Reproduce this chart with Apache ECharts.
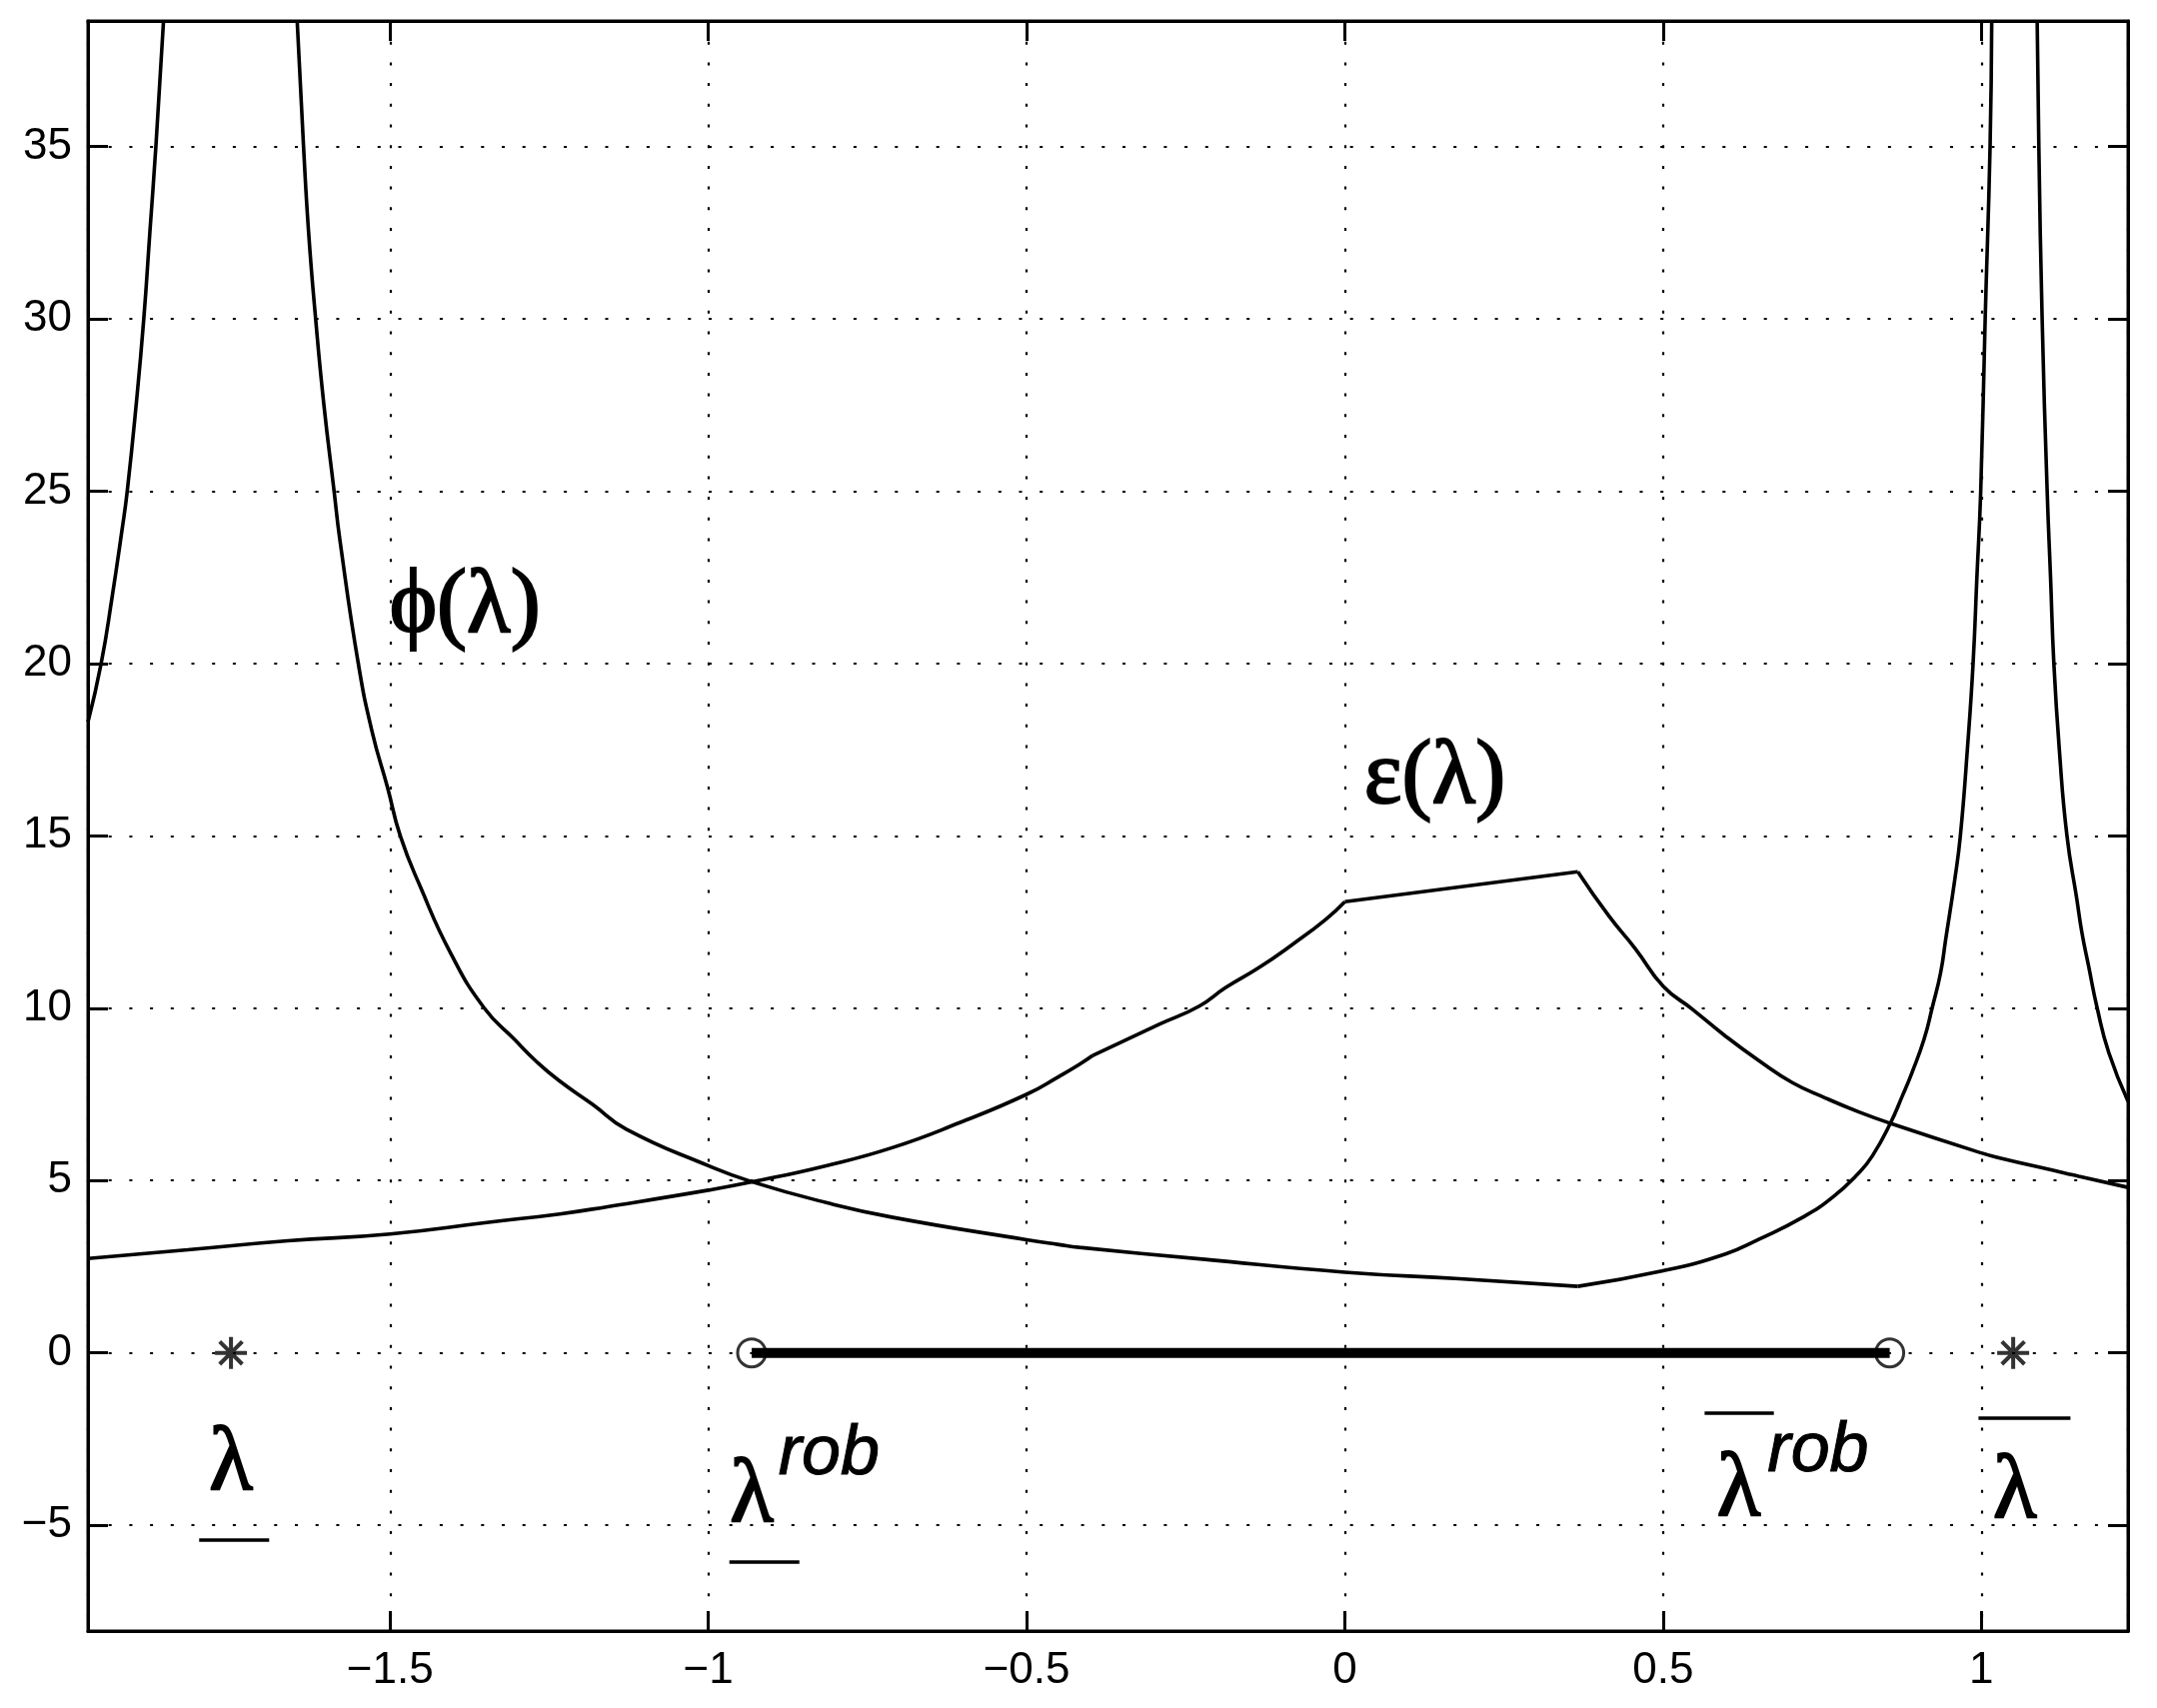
<!DOCTYPE html>
<html>
<head>
<meta charset="utf-8">
<title>phi and epsilon over lambda</title>
<script src="https://cdn.jsdelivr.net/npm/echarts@6/dist/echarts.min.js"></script>
<style>
  html, body { margin: 0; padding: 0; background: #fff; }
  #chart { width: 2158px; height: 1709px; }
</style>
</head>
<body>
<div id="chart"></div>
<script>
// phi(lambda), split in three branches by the two poles
var phiLeft = [
  [-1.9747, 18.3], [-1.954, 20.0], [-1.937, 21.9], [-1.921, 23.9], [-1.913, 25.0],
  [-1.899, 27.5], [-1.887, 30.0], [-1.8775, 32.5], [-1.868, 35.0], [-1.856, 38.64]
];
var phiMid = [
  [-1.646, 38.64], [-1.636, 35.0], [-1.628, 32.5], [-1.617, 30.0], [-1.604, 27.5],
  [-1.588, 25.0], [-1.579, 23.6], [-1.550, 20.0], [-1.528, 18.0], [-1.504, 16.4],
  [-1.484, 15.0], [-1.452, 13.5], [-1.405, 11.6], [-1.352, 10.0], [-1.305, 9.1],
  [-1.270, 8.45], [-1.234, 7.89], [-1.182, 7.21], [-1.129, 6.49], [-1.0, 5.43],
  [-0.931, 4.96], [-0.815, 4.36], [-0.710, 3.93], [-0.5, 3.28], [-0.449, 3.14],
  [-0.417, 3.06], [-0.224, 2.72], [0, 2.34], [0.18, 2.15], [0.366, 1.93],
  [0.5, 2.38], [0.598, 2.87], [0.651, 3.30], [0.719, 3.93], [0.766, 4.51],
  [0.808, 5.23], [0.829, 5.72], [0.857, 6.66], [0.876, 7.46], [0.891, 8.13],
  [0.910, 9.10], [0.923, 10.03], [0.936, 11.03], [0.944, 12.0], [0.958, 13.7],
  [0.967, 15.0], [0.978, 17.5], [0.987, 20.0], [0.993, 22.5], [0.999, 25.0],
  [1.006, 30.0], [1.0137, 35.0], [1.0163, 38.64]
];
var phiRight = [
  [1.0877, 38.64], [1.0903, 35.0], [1.0955, 30.0], [1.1034, 25.0], [1.1087, 22.5],
  [1.1139, 20.0], [1.1225, 17.5], [1.1345, 15.0], [1.150, 13.16], [1.158, 12.19],
  [1.1685, 11.22], [1.182, 10.0], [1.2002, 8.71], [1.2304, 7.3]
];
// epsilon(lambda)
var epsCurve = [
  [-1.9747, 2.74], [-1.8175, 2.99], [-1.6605, 3.25], [-1.5, 3.45], [-1.345, 3.79],
  [-1.2335, 4.03], [-1.1585, 4.24], [-1.0, 4.72], [-0.931, 4.96], [-0.815, 5.43],
  [-0.710, 5.96], [-0.605, 6.68], [-0.5, 7.50], [-0.449, 8.02], [-0.417, 8.37],
  [-0.396, 8.63], [-0.2916, 9.53], [-0.2288, 10.06], [-0.187, 10.6], [-0.1346, 11.18],
  [-0.0822, 11.85], [-0.0298, 12.58], [0, 13.09], [0.366, 13.96], [0.415, 12.67],
  [0.457, 11.71], [0.5, 10.64], [0.546, 9.97], [0.598, 9.19], [0.651, 8.47],
  [0.703, 7.84], [0.7555, 7.39], [0.8076, 6.99], [0.857, 6.66], [1.0, 5.80],
  [1.0275, 5.66], [1.1322, 5.21], [1.153, 5.12], [1.2304, 4.80]
];
// corners where the curves are not smooth
var phiKinks = [0.366];
var epsKinks = [-0.396, 0, 0.366];

var poles = [-1.75, 1.05];        // stars
var robBounds = [-0.932, 0.856];  // circles and the thick bar
var xTicks = [-1.5, -1, -0.5, 0, 0.5, 1];
var yTicks = [-5, 0, 5, 10, 15, 20, 25, 30, 35];

var xRange = [-1.9747, 1.2304];
var yRange = [-8.07, 38.64];

// text annotations (anchor = text centre line, data units)
var labelSpots = [
  { text: '\u03d5(\u03bb)', at: [-1.501, 21.62], align: 'left', kind: 'greek' },
  { text: '\u03b5(\u03bb)', at: [0.0303, 16.65], align: 'left', kind: 'greek' },
  { text: '\u03bb', at: [-1.750, -3.27], align: 'center', kind: 'greek' },
  { text: '\u03bb', at: [-0.932, -4.20], align: 'center', kind: 'greek' },
  { text: 'rob', at: [-0.890, -2.96], align: 'left', kind: 'sup' },
  { text: '\u03bb', at: [0.619, -4.02], align: 'center', kind: 'greek' },
  { text: 'rob', at: [0.664, -2.87], align: 'left', kind: 'sup' },
  { text: '\u03bb', at: [1.0526, -4.07], align: 'center', kind: 'greek' }
];
// under/over bars for the lambda labels: [x0, x1, y]
var bars = [
  [-1.800, -1.690, -5.41], [-0.967, -0.857, -6.05],
  [0.5652, 0.674, -1.74], [0.9955, 1.140, -1.885]
];

var textStyles = {
  greek: { fontFamily: '"Liberation Serif", "DejaVu Serif", serif', fontSize: 90, fontStyle: 'normal', stroke: 2 },
  sup: { fontFamily: '"Liberation Sans", Arial, sans-serif', fontSize: 70, fontStyle: 'italic', stroke: 1 }
};

function tickText(list) {
  return function (v) {
    for (var i = 0; i < list.length; i++) {
      if (Math.abs(v - list[i]) < 1e-6) return String(list[i]).replace('-', '\u2212');
    }
    return '';
  };
}

// cut a curve into pieces at its corners so smoothing keeps the corners sharp
function splitAt(data, kinks) {
  var parts = [[]];
  data.forEach(function (p) {
    var cur = parts[parts.length - 1];
    cur.push(p);
    for (var k = 0; k < kinks.length; k++) {
      if (Math.abs(p[0] - kinks[k]) < 1e-9) { parts.push([p]); break; }
    }
  });
  return parts.filter(function (s) { return s.length > 1; });
}

var black = '#000';
var tickFont = { color: black, fontSize: 44, fontFamily: '"Liberation Sans", Arial, sans-serif' };

function makeAxis(dim, pos, range, split, list, main) {
  return {
    type: 'value',
    position: pos,
    min: range[0],
    max: range[1],
    splitNumber: split,
    axisLine: { show: true, onZero: false, lineStyle: { color: black, width: 3 } },
    axisTick: { show: true, inside: true, length: 20, lineStyle: { color: black, width: 3 } },
    axisLabel: Object.assign({
      show: main,
      margin: dim === 'x' ? 18 : 16,
      formatter: tickText(list)
    }, tickFont),
    splitLine: main ? { show: true, lineStyle: { color: black, width: 2.2, type: [3, 17.7] } } : { show: false }
  };
}

function curve(data) {
  return {
    type: 'line',
    data: data,
    symbol: 'none',
    showSymbol: false,
    smooth: 0.5,
    clip: true,
    lineStyle: { color: black, width: 3.6 },
    z: 3
  };
}

var curveSeries = []
  .concat([phiLeft, phiRight].map(curve))
  .concat(splitAt(phiMid, phiKinks).map(curve))
  .concat(splitAt(epsCurve, epsKinks).map(curve));

var chart = echarts.init(document.getElementById('chart'), null, { renderer: 'canvas' });

chart.setOption({
  animation: false,
  backgroundColor: '#fff',
  grid: { left: 88, right: 29, top: 21, bottom: 77, show: true, borderColor: black, borderWidth: 3 },
  xAxis: [
    makeAxis('x', 'bottom', xRange, 6, xTicks, true),
    makeAxis('x', 'top', xRange, 6, xTicks, false)
  ],
  yAxis: [
    makeAxis('y', 'left', yRange, 9, yTicks, true),
    makeAxis('y', 'right', yRange, 9, yTicks, false)
  ],
  series: curveSeries.concat([
    {
      type: 'line',
      data: robBounds.map(function (v) { return [v, 0]; }),
      symbol: 'none',
      lineStyle: { color: black, width: 10 },
      z: 4
    },
    {
      type: 'scatter',
      data: robBounds.map(function (v) { return [v, 0]; }),
      symbol: 'circle',
      symbolSize: 28,
      itemStyle: { color: 'rgba(0,0,0,0)', borderColor: black, borderWidth: 3 },
      z: 5
    },
    {
      type: 'scatter',
      data: poles.map(function (v) { return [v, 0]; }),
      symbol: 'path://M0,-10L0,10M-10,0L10,0M-7.07,-7.07L7.07,7.07M-7.07,7.07L7.07,-7.07',
      symbolSize: 32,
      itemStyle: { color: black, borderColor: black, borderWidth: 4 },
      z: 5
    },
    {
      type: 'scatter',
      symbol: 'circle',
      symbolSize: 1,
      itemStyle: { color: 'rgba(0,0,0,0)' },
      z: 6,
      data: labelSpots.map(function (s) {
        var st = textStyles[s.kind];
        return {
          value: s.at,
          label: {
            show: true,
            position: 'inside',
            formatter: s.text,
            align: s.align,
            verticalAlign: 'middle',
            color: black,
            opacity: 1,
            textBorderColor: black,
            textBorderWidth: st.stroke,
            fontFamily: st.fontFamily,
            fontSize: st.fontSize,
            fontStyle: st.fontStyle
          }
        };
      }),
      markLine: {
        silent: true,
        symbol: ['none', 'none'],
        label: { show: false },
        lineStyle: { color: black, width: 3.5, type: 'solid' },
        data: bars.map(function (b) {
          return [{ coord: [b[0], b[2]] }, { coord: [b[1], b[2]] }];
        })
      }
    }
  ])
});
</script>
</body>
</html>
